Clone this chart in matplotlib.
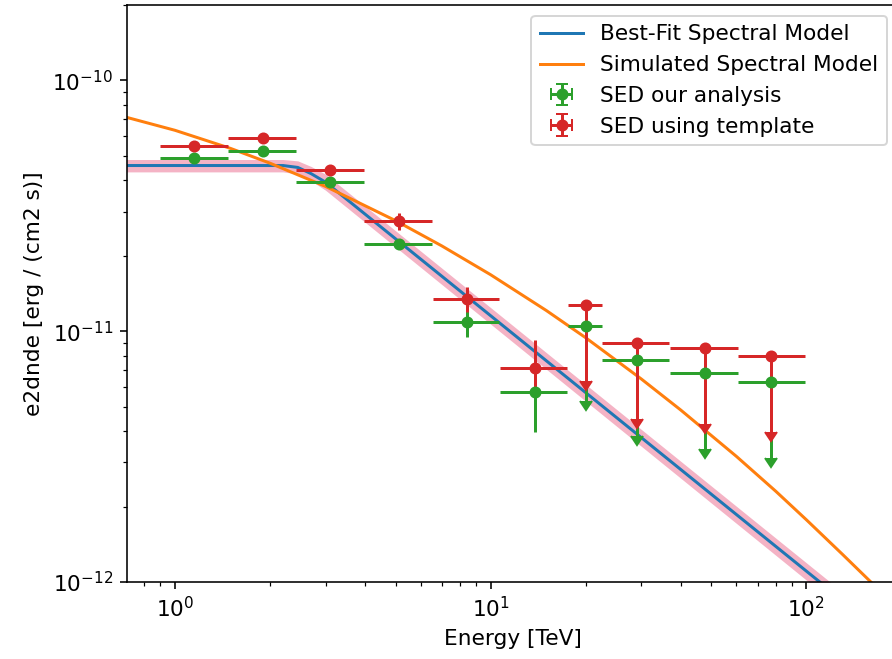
import numpy as np
import matplotlib
matplotlib.use("Agg")
import matplotlib.pyplot as plt

plt.rcParams['font.size'] = 10.8

# best-fit model, energy in TeV, e2dnde in erg/(cm2 s)
fit_e = [0.65, 2.2, 2.45, 2.7, 3.0, 125]
fit_val = [4.58e-11, 4.58e-11, 4.50e-11, 4.25e-11, 3.93e-11, 8.8e-13]
fit_lo = [4.32e-11, 4.32e-11, 4.24e-11, 3.98e-11, 3.65e-11, 8.1e-13]
fit_hi = [4.84e-11, 4.84e-11, 4.78e-11, 4.54e-11, 4.23e-11, 9.5e-13]

# simulated model
sim_e = [0.65, 1, 1.5, 2, 3, 5, 7, 10, 15, 20, 30, 40, 60, 80, 100, 130, 160, 200]
sim_val = [7.32e-11, 6.33e-11, 5.36e-11, 4.68e-11, 3.78e-11, 2.76e-11, 2.19e-11,
           1.68e-11, 1.21e-11, 9.42e-12, 6.45e-12, 4.85e-12, 3.17e-12, 2.30e-12,
           1.77e-12, 1.29e-12, 1.00e-12, 7.5e-13]

# flux points
e_ref = [1.15, 1.90, 3.10, 5.11, 8.4, 13.8, 20.0, 29.0, 47.9, 77.5]
e_min = [0.897, 1.47, 2.41, 3.96, 6.55, 10.7, 17.6, 22.6, 37.1, 60.9]
e_max = [1.47, 2.41, 3.96, 6.51, 10.6, 17.5, 22.6, 36.8, 60.9, 99.3]
is_ul = [False, False, False, False, False, False, True, True, True, True]

ours_val = [4.89e-11, 5.21e-11, 3.93e-11, 2.22e-11, 1.09e-11, 5.71e-12,
            1.05e-11, 7.66e-12, 6.80e-12, 6.27e-12]
ours_errn = [1.5e-12, 1.5e-12, 1.5e-12, 1.0e-12, 1.44e-12, 1.75e-12, 0, 0, 0, 0]
ours_errp = [1.5e-12, 1.5e-12, 1.5e-12, 1.0e-12, 1.2e-12, 1.62e-12, 0, 0, 0, 0]

tmpl_val = [5.46e-11, 5.88e-11, 4.41e-11, 2.74e-11, 1.34e-11, 7.13e-12,
            1.27e-11, 8.95e-12, 8.55e-12, 7.94e-12]
tmpl_errn = [1.5e-12, 1.5e-12, 1.5e-12, 2.0e-12, 1.5e-12, 1.31e-12, 0, 0, 0, 0]
tmpl_errp = [1.5e-12, 1.5e-12, 1.5e-12, 2.1e-12, 1.6e-12, 2.07e-12, 0, 0, 0, 0]


def plot_points(ax, val, errn, errp, color, label):
    e = np.array(e_ref)
    y = np.array(val)
    ul = np.array(is_ul)
    # upper limits drawn as arrows down to half the value
    yerr_lo = np.where(ul, 0.5 * y, errn)
    yerr_hi = np.where(ul, 0, errp)
    xerr = [e - np.array(e_min), np.array(e_max) - e]
    ax.errorbar(e, y, xerr=xerr, yerr=[yerr_lo, yerr_hi], uplims=ul,
                fmt='o', ms=5, color=color, label=label)


fig = plt.figure(figsize=(892 / 144, 659 / 144), dpi=144)
ax = fig.add_axes([127 / 892, 77 / 659, 771 / 892, 577 / 659])

ax.fill_between(fit_e, fit_lo, fit_hi, color='#f4b3c5', lw=0)
ax.plot(fit_e, fit_val, color='C0', label='Best-Fit Spectral Model')
ax.plot(sim_e, sim_val, color='C1', label='Simulated Spectral Model')
plot_points(ax, ours_val, ours_errn, ours_errp, 'C2', 'SED our analysis')
plot_points(ax, tmpl_val, tmpl_errn, tmpl_errp, 'C3', 'SED using template')

ax.set_xscale('log')
ax.set_yscale('log')
ax.set_xlim(0.705, 195)
ax.set_ylim(1e-12, 2e-10)
ax.set_xlabel('Energy [TeV]')
ax.set_ylabel('e2dnde [erg / (cm2 s)]')
ax.legend(loc='upper right')

fig.savefig('out.png', dpi=144)
